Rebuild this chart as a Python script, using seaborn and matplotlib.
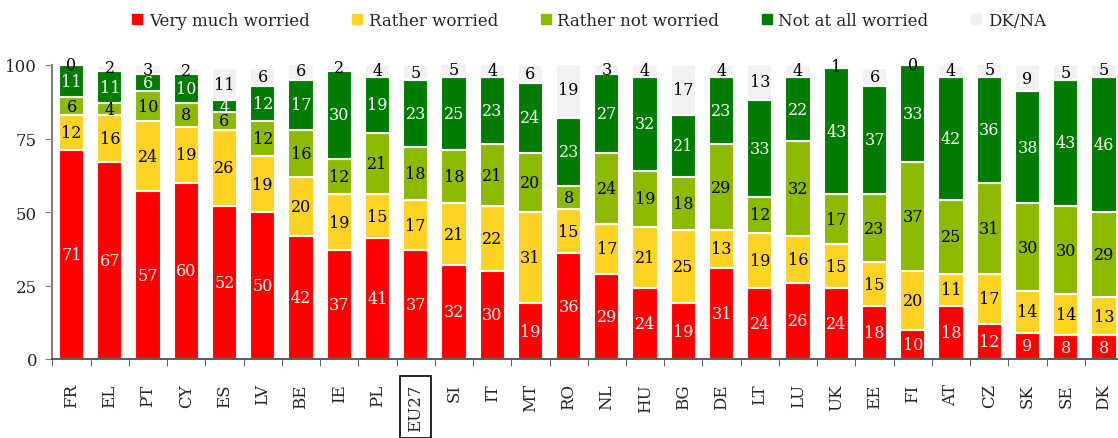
import matplotlib
matplotlib.use('Agg')
import matplotlib.pyplot as plt
from matplotlib.lines import Line2D
from matplotlib.ticker import FixedLocator
import seaborn as sns
import pandas as pd
import numpy as np

countries = ['FR', 'EL', 'PT', 'CY', 'ES', 'LV', 'BE', 'IE', 'PL', 'EU27', 'SI', 'IT', 'MT', 'RO',
             'NL', 'HU', 'BG', 'DE', 'LT', 'LU', 'UK', 'EE', 'FI', 'AT', 'CZ', 'SK', 'SE', 'DK']
very_much = [71, 67, 57, 60, 52, 50, 42, 37, 41, 37, 32, 30, 19, 36, 29, 24, 19, 31, 24, 26, 24, 18, 10, 18, 12, 9, 8, 8]
rather = [12, 16, 24, 19, 26, 19, 20, 19, 15, 17, 21, 22, 31, 15, 17, 21, 25, 13, 19, 16, 15, 15, 20, 11, 17, 14, 14, 13]
rather_not = [6, 4, 10, 8, 6, 12, 16, 12, 21, 18, 18, 21, 20, 8, 24, 19, 18, 29, 12, 32, 17, 23, 37, 25, 31, 30, 30, 29]
not_at_all = [11, 11, 6, 10, 4, 12, 17, 30, 19, 23, 25, 23, 24, 23, 27, 32, 21, 23, 33, 22, 43, 37, 33, 42, 36, 38, 43, 46]
dk_na = [0, 2, 3, 2, 11, 6, 6, 2, 4, 5, 5, 4, 6, 19, 3, 4, 17, 4, 13, 4, 1, 6, 0, 4, 5, 9, 5, 5]

series = ['Very much worried', 'Rather worried', 'Rather not worried', 'Not at all worried', 'DK/NA']
colors = ['#ff0000', '#ffd324', '#8cba00', '#007c00', '#f2f2f2']
text_colors = ['white', 'black', 'black', 'white', 'black']

df = pd.DataFrame({'country': countries, series[0]: very_much, series[1]: rather,
                   series[2]: rather_not, series[3]: not_at_all, series[4]: dk_na})

sns.set_style('white')
plt.rcParams['font.family'] = ['DejaVu Serif']

fig = plt.figure(figsize=(11.18, 4.39), dpi=100)
ax = fig.add_axes([52.4 / 1118, 79 / 439, 1070.7 / 1118, 294 / 439])

bottom = np.zeros(len(countries))
for name, col, tcol in zip(series, colors, text_colors):
    vals = df[name].to_numpy(dtype=float)
    sns.barplot(data=df, x='country', y=name, color=col, ax=ax, width=0.66,
                bottom=bottom, edgecolor='white', linewidth=1.5, saturation=1)
    for i, (v, b) in enumerate(zip(vals, bottom)):
        yc = min(b + v / 2, 100)
        ax.text(i, yc, str(int(v)), ha='center', va='center', color=tcol, fontsize=11.5)
    bottom = bottom + vals

ax.set_ylim(0, 100)
ax.set_xlim(-0.5, 27.5)
ax.set_yticks([0, 25, 50, 75, 100])
ax.set_ylabel('')
ax.set_xlabel('')
ax.tick_params(axis='y', left=True, length=5, color='#7f7f7f', labelsize=12, pad=6)
ax.tick_params(axis='x', which='major', bottom=False, labelsize=12, labelrotation=90, pad=14)
ax.xaxis.set_minor_locator(FixedLocator(np.arange(-0.5, 28, 1)))
ax.tick_params(axis='x', which='minor', bottom=True, length=5, color='#404040')
for s in ['top', 'right']:
    ax.spines[s].set_visible(False)
ax.spines['left'].set_color('#7f7f7f')
ax.spines['left'].set_linewidth(1.5)
ax.spines['bottom'].set_color('#404040')
ax.spines['bottom'].set_linewidth(1.2)

for lab in ax.get_xticklabels():
    lab.set_va('top')
    if lab.get_text() == 'EU27':
        lab.set_bbox(dict(facecolor='none', edgecolor='black', linewidth=1.2, pad=5))

handles = [Line2D([0], [0], marker='s', linestyle='', markersize=7.5, color=c) for c in colors]
fig.legend(handles, series, loc='center', bbox_to_anchor=(0.527, 0.952), ncol=5, frameon=False,
           fontsize=12, handlelength=0.6, handletextpad=0.4, columnspacing=2.55)

fig.savefig('out.png', dpi=100)
